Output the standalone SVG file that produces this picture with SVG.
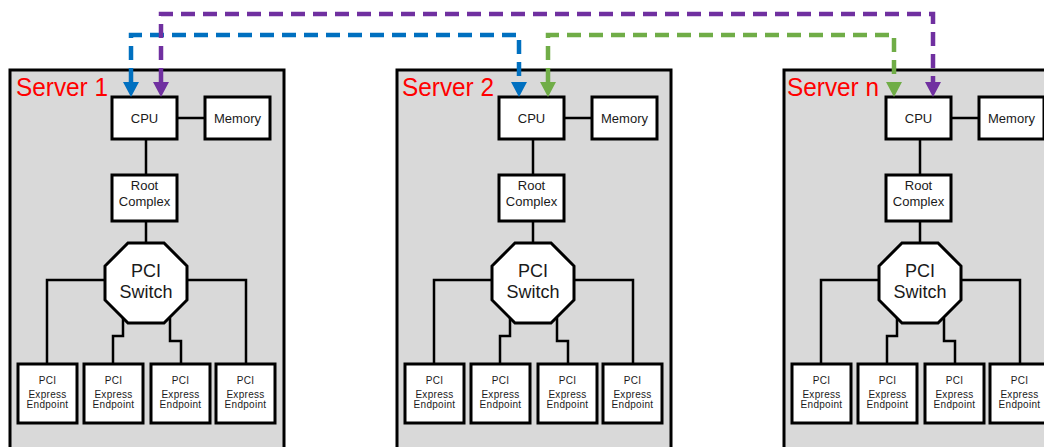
<svg xmlns="http://www.w3.org/2000/svg" width="1044" height="447" viewBox="0 0 1044 447">
<style>
.srv{fill:#d9d9d9;stroke:#000;stroke-width:3}
.box{fill:#fff;stroke:#000;stroke-width:3}
.ln{fill:none;stroke:#000;stroke-width:2.5}
.lbl{font-family:"Liberation Sans",Arial,sans-serif;font-size:26px;fill:#ff0000}
.t13{font-family:"Liberation Sans",Arial,sans-serif;font-size:13px;fill:#1a1a1a;text-anchor:middle}
.t18{font-family:"Liberation Sans",Arial,sans-serif;font-size:18px;fill:#1a1a1a;text-anchor:middle}
.t10{font-family:"Liberation Sans",Arial,sans-serif;font-size:10px;fill:#1a1a1a;text-anchor:middle;letter-spacing:0.3px}
.dash{fill:none;stroke-width:4.5;stroke-dasharray:14 8}
</style>
<defs>
<marker id="ab" viewBox="0 0 16 16" refX="0" refY="8" markerWidth="16" markerHeight="16" markerUnits="userSpaceOnUse" orient="auto-start-reverse"><path d="M0,0 L15,8 L0,16 z" fill="#0070c0"/></marker>
<marker id="ap" viewBox="0 0 16 16" refX="0" refY="8" markerWidth="16" markerHeight="16" markerUnits="userSpaceOnUse" orient="auto-start-reverse"><path d="M0,0 L15,8 L0,16 z" fill="#7030a0"/></marker>
<marker id="ag" viewBox="0 0 16 16" refX="0" refY="8" markerWidth="16" markerHeight="16" markerUnits="userSpaceOnUse" orient="auto-start-reverse"><path d="M0,0 L15,8 L0,16 z" fill="#70ad47"/></marker>
<g id="serverTpl">
<rect class="srv" x="10" y="70" width="274" height="400"/>
<path class="ln" d="M177,118 H205 M146,139 V175 M146,221 V243 M105,280 H47 V364 M187,280 H246 V364 M123,318 V336 H113 V364 M170,318 V341 H181 V364"/>
<g><rect class="box" x="112" y="97" width="65" height="42"/><text class="t13" x="144.5" y="123">CPU</text></g>
<g><rect class="box" x="205" y="97" width="65" height="42"/><text class="t13" x="237.5" y="123">Memory</text></g>
<g><rect class="box" x="112" y="175" width="65" height="46"/><text class="t13" x="144.5" y="190">Root</text><text class="t13" x="144.5" y="206">Complex</text></g>
<g><polygon class="box" points="128,243 164,243 187,266 187,300 164,323 128,323 105,300 105,266"/><text class="t18" x="146" y="277">PCI</text><text class="t18" x="146" y="298">Switch</text></g>
<g><rect class="box" x="18" y="364" width="59" height="59"/><text class="t10" x="47.5" y="384">PCI</text><text class="t10" x="47.5" y="398">Express</text><text class="t10" x="47.5" y="408">Endpoint</text></g>
<g><rect class="box" x="84" y="364" width="59" height="59"/><text class="t10" x="113.5" y="384">PCI</text><text class="t10" x="113.5" y="398">Express</text><text class="t10" x="113.5" y="408">Endpoint</text></g>
<g><rect class="box" x="151" y="364" width="59" height="59"/><text class="t10" x="180.5" y="384">PCI</text><text class="t10" x="180.5" y="398">Express</text><text class="t10" x="180.5" y="408">Endpoint</text></g>
<g><rect class="box" x="216" y="364" width="59" height="59"/><text class="t10" x="245.5" y="384">PCI</text><text class="t10" x="245.5" y="398">Express</text><text class="t10" x="245.5" y="408">Endpoint</text></g>
</g>
</defs>
<g id="server1"><use href="#serverTpl"/><text class="lbl" x="16" y="96" textLength="92" lengthAdjust="spacingAndGlyphs">Server 1</text></g>
<g id="server2" transform="translate(387,0)"><use href="#serverTpl"/><text class="lbl" x="15" y="96" textLength="92" lengthAdjust="spacingAndGlyphs">Server 2</text></g>
<g id="servern" transform="translate(774,0)"><use href="#serverTpl"/><text class="lbl" x="13" y="96" textLength="92" lengthAdjust="spacingAndGlyphs">Server n</text></g>
<g id="connectors">
<path class="dash" stroke="#0070c0" d="M131,82 V35 H519 V82" marker-start="url(#ab)" marker-end="url(#ab)"/>
<path class="dash" stroke="#7030a0" d="M161,82 V14 H933 V82" marker-start="url(#ap)" marker-end="url(#ap)"/>
<path class="dash" stroke="#70ad47" d="M548,82 V35 H894 V82" marker-start="url(#ag)" marker-end="url(#ag)"/>
</g>
</svg>
